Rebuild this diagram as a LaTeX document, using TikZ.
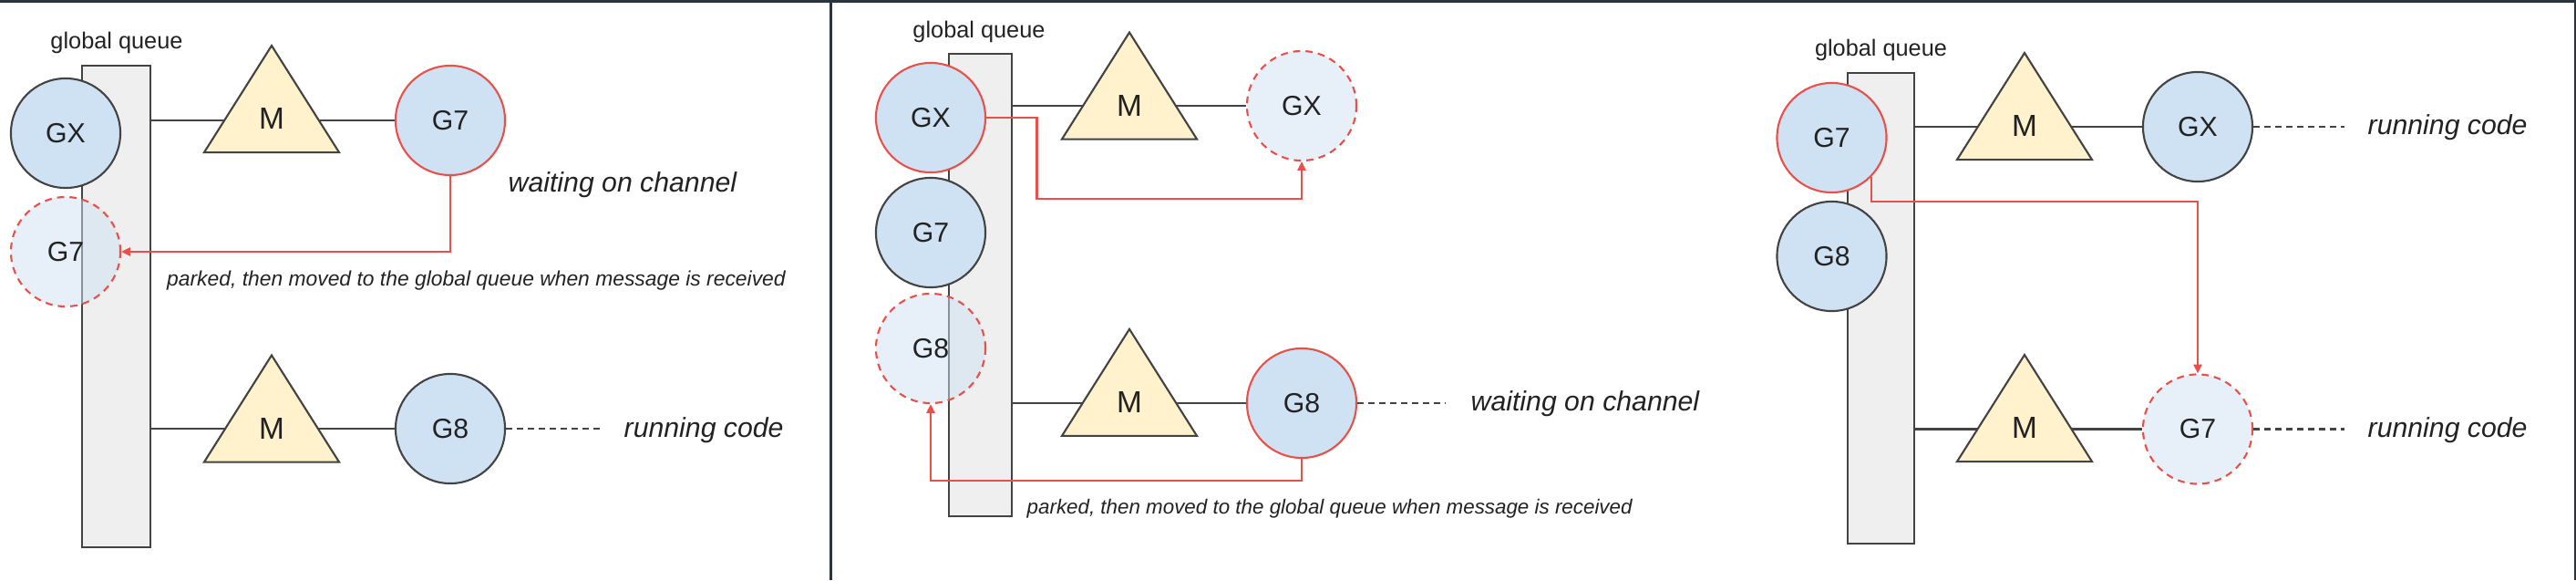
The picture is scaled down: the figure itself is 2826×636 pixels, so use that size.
\documentclass[tikz,border=0pt]{standalone}
\usepackage{fontspec}
\setmainfont{Liberation Sans}
\usetikzlibrary{arrows.meta}
\usetikzlibrary{shapes}

\definecolor{gblue}{HTML}{CFE2F3}
\definecolor{gyellow}{HTML}{FFF2CC}
\definecolor{ggray}{HTML}{EFEFEF}
\definecolor{gline}{HTML}{434343}
\definecolor{gred}{HTML}{E8504A}
\definecolor{gtext}{HTML}{222222}
\definecolor{frame}{HTML}{2B333C}

\begin{document}
\begin{tikzpicture}[x=0.01cm,y=-0.01cm]
\tikzstyle{gq}=[rectangle,draw=gline,fill=ggray,line width=0.6pt,inner sep=0pt]
\tikzstyle{gor}=[circle,draw=gline,fill=gblue,line width=0.6pt,minimum size=1.2cm,inner sep=0pt,text=gtext,font=\fontsize{8.6}{10}\selectfont]
\tikzstyle{gwait}=[gor,draw=gred]
\tikzstyle{gpark}=[gor,draw=gred,dash pattern=on 2.2pt off 1.7pt,fill opacity=0.5,text opacity=1,draw opacity=1]
\tikzstyle{mach}=[isosceles triangle,isosceles triangle stretches,shape border rotate=90,draw=gline,fill=gyellow,line width=0.6pt,minimum width=1.48cm,minimum height=1.17cm,inner sep=0pt,text=gtext,font=\fontsize{9.5}{10}\selectfont]
\tikzstyle{link}=[draw=gline,line width=0.6pt]
\tikzstyle{trail}=[draw=gline,line width=0.6pt,dash pattern=on 2pt off 1.4pt]
\tikzstyle{move}=[draw=gred,line width=0.6pt,-{Triangle[length=2.8pt,width=2.6pt]}]
\tikzstyle{qlabel}=[inner sep=0pt,text=gtext,font=\fontsize{7.2}{9}\selectfont]
\tikzstyle{note}=[anchor=west,inner sep=0pt,text=gtext,font=\itshape\fontsize{8.6}{10}\selectfont]
\tikzstyle{park}=[anchor=west,inner sep=0pt,text=gtext,font=\itshape\fontsize{6.5}{8}\selectfont]
\useasboundingbox (0,0) rectangle (2826,636);
\fill[frame] (0,0) rectangle (2826,2.5);
\fill[frame] (910,0) rectangle (912.5,636);
\fill[frame] (2823.5,0) rectangle (2826,636);

% parked on a channel
\node[qlabel] (gl1) at (128,47) {global queue};
\node[gq,minimum width=0.75cm,minimum height=5.28cm] (q1) at (127.5,336) {};
\node[gor] (gx1) at (72,146) {GX};
\node[gpark] (g7p1) at (72,276) {G7};
\node[gwait] (g71) at (494,132) {G7};
\node[gor] (g81) at (494,470) {G8};
\draw[link] (q1.east |- g71) -- (g71);
\draw[link] (q1.east |- g81) -- (g81);
\node[mach] (m11) at (298,130.5) {M};
\node[mach] (m12) at (298,470) {M};
\draw[move] (g71) |- (g7p1);
\coordinate (t1) at (658,470);
\draw[trail] (g81) -- (t1);
\node[note] (w1) at (557,203) {waiting on channel};
\node[note] (r1) at (684,472) {running code};
\node[park] (p1) at (182.5,308) {parked, then moved to the global queue when message is received};

% second one parked
\node[qlabel] (gl2) at (1074,34.5) {global queue};
\node[gq,minimum width=0.69cm,minimum height=5.07cm] (q2) at (1075.3,312.5) {};
\node[gwait] (gx2) at (1021,129) {GX};
\node[gor] (g72) at (1021,255) {G7};
\node[gpark] (g8p2) at (1021,382) {G8};
\node[gpark] (gxp2) at (1428,116) {GX};
\node[gwait] (g82) at (1428,442) {G8};
\draw[link] (q2.east |- gxp2) -- (gxp2);
\draw[link] (q2.east |- g82) -- (g82);
\node[mach] (m21) at (1239,116) {M};
\node[mach] (m22) at (1239,441.3) {M};
\coordinate (b21) at (1137.5,218);
\draw[move] (gx2.east) -| (b21) -| (gxp2);
\coordinate (b22) at (1021,526.6);
\draw[move] (g82) |- (b22) -- (g8p2);
\coordinate (t2) at (1586,442);
\draw[trail] (g82) -- (t2);
\node[note] (w2) at (1613,443) {waiting on channel};
\node[park,font=\itshape\fontsize{6.36}{8}\selectfont] (p2) at (1126,558) {parked, then moved to the global queue when message is received};

% back from the global queue
\node[qlabel] (gl3) at (2063.5,55) {global queue};
\node[gq,minimum width=0.73cm,minimum height=5.155cm] (q3) at (2063.5,337.75) {};
\node[gwait] (g73) at (2009.5,151) {G7};
\node[gor] (g83) at (2009.5,281) {G8};
\node[gor] (gx3) at (2411,139) {GX};
\node[gpark] (g7p3) at (2411,470.5) {G7};
\draw[link] (q3.east |- gx3) -- (gx3);
\draw[link] (q3.east |- g7p3) -- (g7p3);
\node[mach] (m31) at (2221,138.5) {M};
\node[mach] (m32) at (2221,469.5) {M};
\coordinate (b3) at (2411,221);
\draw[move] (g73.-45) |- (b3) -- (g7p3);
\coordinate (t31) at (2572,139);
\coordinate (t32) at (2572,470.5);
\draw[trail] (gx3) -- (t31);
\draw[trail] (g7p3) -- (t32);
\node[note] (r31) at (2597,140) {running code};
\node[note] (r32) at (2597,472) {running code};
\end{tikzpicture}
\end{document}
